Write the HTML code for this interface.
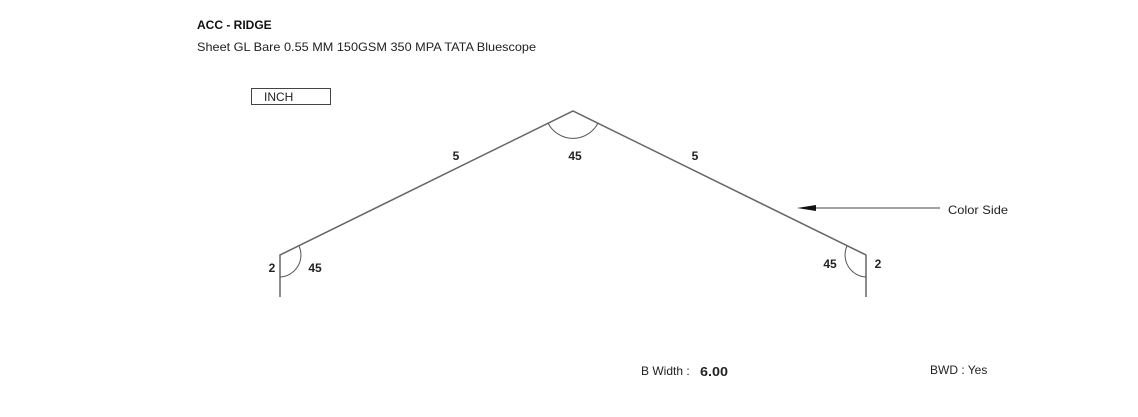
<!DOCTYPE html>
<html><head><meta charset="utf-8"><style>
html,body{margin:0;padding:0;background:#fff;}
svg{display:block;font-family:"Liberation Sans",sans-serif;}
</style></head><body>
<svg width="1138" height="417" viewBox="0 0 1138 417">
<text x="197" y="29" font-size="12" font-weight="bold" fill="#111">ACC - RIDGE</text>
<text x="197" y="51" font-size="12" fill="#222" textLength="339" lengthAdjust="spacingAndGlyphs">Sheet GL Bare 0.55 MM 150GSM 350 MPA TATA Bluescope</text>
<rect x="251.5" y="88.5" width="79" height="16" fill="#fff" stroke="#444"/>
<text x="264" y="101" font-size="12" fill="#222">INCH</text>
<g stroke="#666" stroke-width="1.5" fill="none">
<polyline points="280,297 280,255 573,111 866,255 866,297"/>
<path d="M548,123 A28,28 0 0 0 598,123" stroke="#555" stroke-width="1"/>
<path d="M280,277 A22,22 0 0 0 299,246" stroke="#555" stroke-width="1"/>
<path d="M866,277 A22,22 0 0 1 847,246" stroke="#555" stroke-width="1"/>
</g>
<g font-size="12" font-weight="bold" fill="#222" text-anchor="middle">
<text x="456" y="160">5</text>
<text x="575" y="160">45</text>
<text x="695" y="160">5</text>
<text x="272" y="272">2</text>
<text x="315" y="272">45</text>
<text x="830" y="268">45</text>
<text x="878" y="268">2</text>
</g>
<line x1="940" y1="208" x2="812" y2="208" stroke="#444" stroke-width="1"/>
<polygon points="797,208 816,205 816,211" fill="#111"/>
<text x="948" y="214" font-size="12" fill="#222" textLength="60" lengthAdjust="spacingAndGlyphs">Color Side</text>
<text x="641" y="375" font-size="12" fill="#222">B Width :</text>
<text x="700" y="376" font-size="13" font-weight="bold" fill="#222" textLength="28" lengthAdjust="spacingAndGlyphs">6.00</text>
<text x="930" y="374" font-size="12" fill="#222">BWD : Yes</text>
</svg>
</body></html>
